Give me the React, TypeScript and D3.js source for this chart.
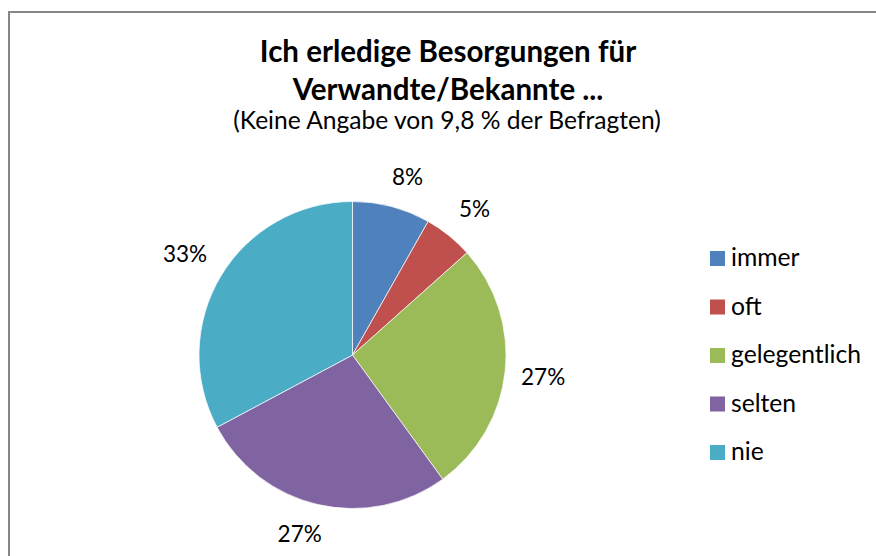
import { useEffect, useRef } from 'react';
import * as d3 from 'd3';

// Answers to "Ich erledige Besorgungen für Verwandte/Bekannte ..." (share in %)
const categories = ['immer', 'oft', 'gelegentlich', 'selten', 'nie'];
const shares = [8.2, 5.2, 26.6, 27.2, 32.8];
const colors = ['#4F81BD', '#C0504D', '#9BBB59', '#8064A2', '#4BACC6'];

const titleLines = ['Ich erledige Besorgungen für', 'Verwandte/Bekannte ...'];
const subtitle = '(Keine Angabe von 9,8 % der Befragten)';

const W = 876;
const H = 556;
const FONT = 'Lato, "Open Sans", sans-serif';

export default function App() {
  const svgRef = useRef<SVGSVGElement>(null);

  useEffect(() => {
    if (!svgRef.current) return;
    const svg = d3.select(svgRef.current);
    svg.selectAll('*').remove();

    // chart frame (right and bottom edges run off the picture)
    svg.append('rect')
      .attr('x', 9).attr('y', 12)
      .attr('width', W + 20).attr('height', H + 20)
      .attr('fill', '#fff')
      .attr('stroke', '#878787')
      .attr('stroke-width', 2);

    // title
    const title = svg.append('text')
      .attr('text-anchor', 'middle')
      .attr('font-family', FONT)
      .attr('fill', '#000');
    titleLines.forEach((line, i) => {
      title.append('tspan')
        .attr('x', 448)
        .attr('y', 62 + i * 38)
        .attr('font-size', 29.5)
        .attr('font-weight', 700)
        .text(line);
    });
    title.append('tspan')
      .attr('x', 447)
      .attr('y', 129)
      .attr('font-size', 24.6)
      .text(subtitle);

    // pie
    const cx = 352.5;
    const cy = 355;
    const r = 153.5;

    const pie = d3.pie<number>().sort(null).value(d => d);
    const arcs = pie(shares);
    const arc = d3.arc<d3.PieArcDatum<number>>().innerRadius(0).outerRadius(r);

    const g = svg.append('g').attr('transform', `translate(${cx},${cy})`);

    g.selectAll('path.slice')
      .data(arcs)
      .join('path')
      .attr('class', 'slice')
      .attr('d', arc)
      .attr('fill', (_, i) => colors[i])
      .attr('stroke', '#fff')
      .attr('stroke-width', 0.7);

    // outside-end labels, boxes pushed off the rim
    const total = d3.sum(shares);
    const labelR = r + 16;
    arcs.forEach(a => {
      const theta = (a.startAngle + a.endAngle) / 2;
      const s = Math.sin(theta);
      const c = Math.cos(theta);
      const t = g.append('text')
        .attr('font-family', FONT)
        .attr('font-size', 22.5)
        .attr('text-anchor', 'middle')
        .attr('fill', '#000')
        .text(`${Math.round((a.value / total) * 100)}%`);
      const box = (t.node() as SVGTextElement).getBBox();
      const k = (v: number) => Math.max(-1, Math.min(1, v * 3));
      const x = labelR * s + (box.width / 2) * k(s);
      const yc = -labelR * c - (box.height / 2) * k(c);
      t.attr('x', x).attr('y', yc).attr('dy', '0.35em');
    });

    // legend
    const legend = svg.append('g');
    categories.forEach((name, i) => {
      const y = 251 + i * 48.5;
      legend.append('rect')
        .attr('x', 710).attr('y', y)
        .attr('width', 15).attr('height', 15)
        .attr('fill', colors[i]);
      legend.append('text')
        .attr('x', 731)
        .attr('y', y + 15)
        .attr('font-family', FONT)
        .attr('font-size', 24.7)
        .attr('fill', '#000')
        .text(name);
    });
  }, []);

  return (
    <svg
      ref={svgRef}
      width={W}
      height={H}
      style={{ position: 'absolute', left: 0, top: 0, background: '#fff' }}
    />
  );
}
